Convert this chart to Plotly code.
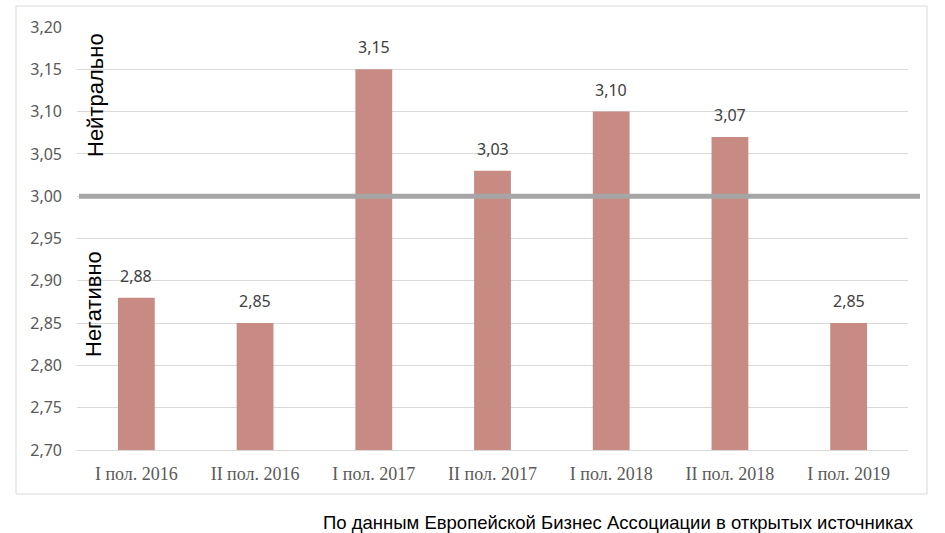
import plotly.graph_objects as go

categories = ["I пол. 2016", "II пол. 2016", "I пол. 2017", "II пол. 2017",
              "I пол. 2018", "II пол. 2018", "I пол. 2019"]
values = [2.88, 2.85, 3.15, 3.03, 3.10, 3.07, 2.85]
neutral_level = 3.00
y_ticks = [2.70, 2.75, 2.80, 2.85, 2.90, 2.95, 3.00, 3.05, 3.10, 3.15, 3.20]
label_neutral = "Нейтрально"
label_negative = "Негативно"
source_note = "По данным Европейской Бизнес Ассоциации в открытых источниках"

def fmt(v):
    return f"{v:.2f}".replace(".", ",")

fig = go.Figure()
fig.add_trace(go.Bar(
    x=categories, y=values,
    marker=dict(color="#C88B84", line=dict(width=0)),
    hoverinfo="skip",
))

L, R, T, B = 77, 37, 27, 83
W, H = 945, 533
pw, ph = W - L - R, H - T - B

def px_x(x):
    return (x - L) / pw

def px_y(y):
    return (H - B - y) / ph

shapes = [
    dict(type="rect", xref="paper", yref="paper",
         x0=px_x(16), x1=px_x(927), y0=px_y(494), y1=px_y(6),
         line=dict(color="#D9D9D9", width=1), fillcolor="rgba(0,0,0,0)", layer="below"),
    dict(type="line", xref="paper", yref="y",
         x0=px_x(79), x1=px_x(920), y0=neutral_level, y1=neutral_level,
         line=dict(color="#A6A6A6", width=5), layer="above"),
]

annotations = [
    dict(text=fmt(v), x=c, y=v, xref="x", yref="y", showarrow=False,
         xanchor="center", yanchor="bottom", yshift=9,
         font=dict(family="Noto Sans", size=16, color="#404040"))
    for c, v in zip(categories, values)
]
annotations += [
    dict(text=label_neutral, xref="paper", yref="paper", x=px_x(95), y=px_y(95),
         textangle=-90, showarrow=False, xanchor="center", yanchor="middle",
         font=dict(family="Liberation Sans", size=22, color="#000000")),
    dict(text=label_negative, xref="paper", yref="paper", x=px_x(93), y=px_y(304),
         textangle=-90, showarrow=False, xanchor="center", yanchor="middle",
         font=dict(family="Liberation Sans", size=22, color="#000000")),
    dict(text=source_note, xref="paper", yref="paper", x=px_x(916), y=px_y(522),
         showarrow=False, xanchor="right", yanchor="middle",
         font=dict(family="Liberation Sans", size=18.5, color="#000000")),
]

fig.update_layout(
    width=W, height=H,
    margin=dict(l=L, r=R, t=T, b=B),
    paper_bgcolor="white", plot_bgcolor="white",
    separators=", ",
    bargap=0.69,
    showlegend=False,
    shapes=shapes,
    annotations=annotations,
    xaxis=dict(
        type="category",
        tickfont=dict(family="Liberation Serif", size=18, color="#595959"),
        showgrid=False, showline=True, linecolor="#D9D9D9", linewidth=1,
        ticks="", ticklabelstandoff=7,
    ),
    yaxis=dict(
        range=[2.70, 3.20],
        tickvals=y_ticks,
        ticktext=[fmt(v) for v in y_ticks],
        tickfont=dict(family="Noto Sans", size=16, color="#595959"),
        showgrid=True, gridcolor="#D9D9D9", gridwidth=1,
        zeroline=False, showline=False, ticks="",
        ticklabelstandoff=14,
    ),
)

fig.write_html("out.html", config={"displayModeBar": False},
               post_script="document.body.style.margin='0';")
